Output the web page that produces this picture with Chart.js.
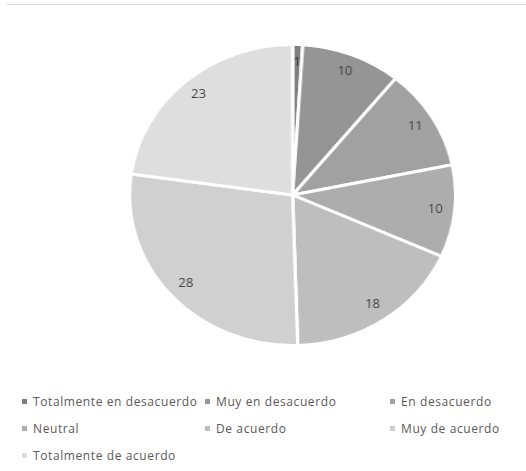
<!DOCTYPE html>
<html>
<head>
<meta charset="utf-8">
<script src="https://cdn.jsdelivr.net/npm/chart.js@4"></script>
<style>
  body { margin: 0; background: #fff; width: 526px; height: 471px; position: relative; overflow: hidden; font-family: "Open Sans", sans-serif; }
  #topline { position: absolute; left: 7px; right: 0; top: 4px; height: 1px; background: #d9d9d9; }
  #pieBox { position: absolute; left: 128px; top: 43px; width: 304px; height: 304px; transform: scaleX(1.083); transform-origin: 0 0; }
  #legend { position: absolute; left: 22px; top: 392px; display: grid; grid-template-columns: 183px 185px 130px; row-gap: 8px; }
  .item { font-size: 12px; color: #595959; letter-spacing: 0.6px; display: flex; align-items: center; height: 19px; white-space: nowrap; }
  .item i { display: inline-block; width: 5px; height: 5px; margin-right: 6px; }
</style>
</head>
<body>
<div id="topline"></div>
<div id="pieBox"><canvas id="chart"></canvas></div>
<div id="legend"></div>
<script>
// Datos del gráfico
const categorias = ["Totalmente en desacuerdo", "Muy en desacuerdo", "En desacuerdo", "Neutral", "De acuerdo", "Muy de acuerdo", "Totalmente de acuerdo"];
const valores = [1, 10, 11, 10, 18, 28, 23];
const colores = ["#7f7f7f", "#959595", "#a1a1a1", "#adadad", "#bebebe", "#d0d0d0", "#dedede"];

// Etiquetas de valor dentro de cada porción
const etiquetas = {
    id: 'etiquetas',
    afterDatasetsDraw(chart) {
        const ctx = chart.ctx;
        const meta = chart.getDatasetMeta(0);
        ctx.save();
        ctx.font = '12px "Open Sans", sans-serif';
        ctx.fillStyle = '#404040';
        ctx.textAlign = 'center';
        ctx.textBaseline = 'middle';
        meta.data.forEach((arc, i) => {
            const mid = (arc.startAngle + arc.endAngle) / 2;
            const r = arc.outerRadius * 0.88;
            ctx.fillText(String(valores[i]), arc.x + Math.cos(mid) * r, arc.y + Math.sin(mid) * r);
        });
        ctx.restore();
    }
};

new Chart(document.getElementById('chart'), {
    type: 'pie',
    data: {
        labels: categorias,
        datasets: [{
            data: valores,
            backgroundColor: colores,
            borderColor: '#ffffff',
            borderWidth: 3,
        }],
    },
    options: {
        responsive: true,
        maintainAspectRatio: false,
        animation: false,
        layout: { padding: 0 },
        plugins: {
            legend: { display: false },
            tooltip: { enabled: false },
        },
    },
    plugins: [etiquetas],
});

// Leyenda en HTML
const leyenda = document.getElementById('legend');
categorias.forEach((c, i) => {
    const div = document.createElement('div');
    div.className = 'item';
    div.innerHTML = '<i style="background:' + colores[i] + '"></i>' + c;
    leyenda.appendChild(div);
});
</script>
</body>
</html>
